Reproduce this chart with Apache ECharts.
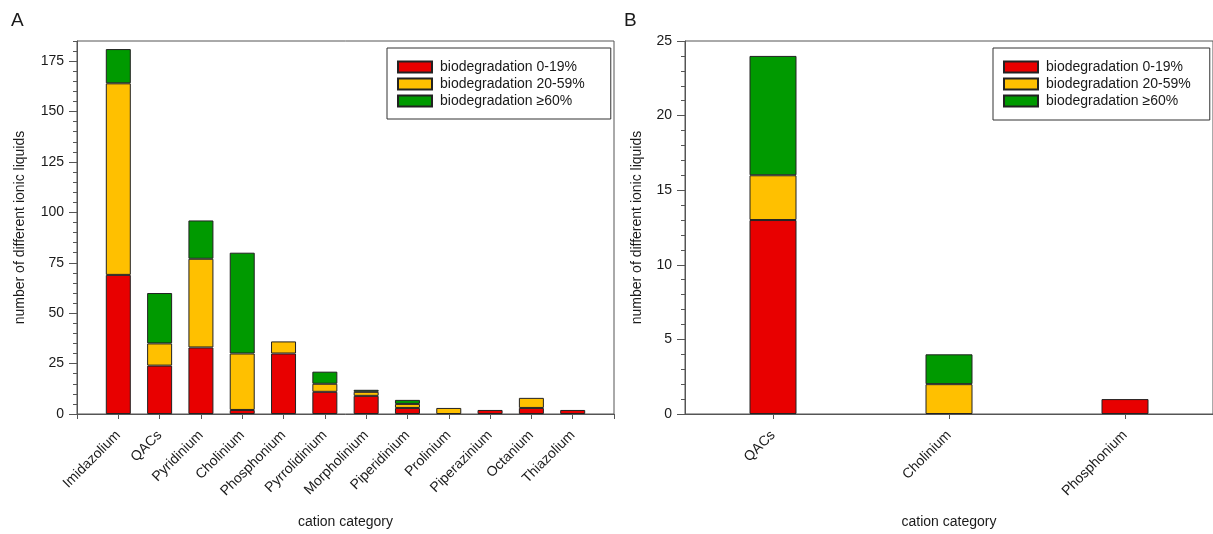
<!DOCTYPE html>
<html>
<head>
<meta charset="utf-8">
<script src="https://cdn.jsdelivr.net/npm/echarts@6/dist/echarts.min.js"></script>
<style>
html,body{margin:0;padding:0;background:#fff;}
#c{width:1213px;height:534px;}
</style>
</head>
<body>
<div id="c"></div>
<script>
// ---- data ----
const seriesNames = ['biodegradation 0-19%', 'biodegradation 20-59%', 'biodegradation \u226560%'];
const categoriesA = ['Imidazolium','QACs','Pyridinium','Cholinium','Phosphonium','Pyrrolidinium','Morpholinium','Piperidinium','Prolinium','Piperazinium','Octanium','Thiazolium'];
const lowA  = [69, 24, 33,  2, 30, 11, 9, 3, 0, 2, 3, 2];
const midA  = [95, 11, 44, 28,  6,  4, 2, 2, 3, 0, 5, 0];
const highA = [17, 25, 19, 50,  0,  6, 1, 2, 0, 0, 0, 0];
const categoriesB = ['QACs','Cholinium','Phosphonium'];
const lowB  = [13, 0, 1];
const midB  = [3, 2, 0];
const highB = [8, 2, 0];
const yTicksA = {min: 0, max: 185, interval: 25, minor: 5};
const yTicksB = {min: 0, max: 25, interval: 5};

// ---- styles ----
const colors = ['#E80000', '#FFC000', '#009A00'];
const font = "'Liberation Sans', Arial, sans-serif";
const txt = '#1a1a1a';
const axisCol = '#555';

const chart = echarts.init(document.getElementById('c'), null, {renderer: 'canvas'});

function mk(v){ return v === 0 ? '-' : v; }
// panel A axis has an empty slot at each end (axis runs from 0 to 13)
const axisCatsA = [''].concat(categoriesA, ['']);

const seriesA = [lowA, midA, highA].map((arr, k) => ({
  name: seriesNames[k], type: 'bar', stack: 'A', xAxisIndex: 0, yAxisIndex: 0,
  barWidth: 25,
  itemStyle: {color: colors[k], borderColor: '#222', borderWidth: 1},
  data: ['-'].concat(arr.map(mk), ['-'])
}));
const seriesB = [lowB, midB, highB].map((arr, k) => ({
  name: seriesNames[k], type: 'bar', stack: 'B', xAxisIndex: 1, yAxisIndex: 2,
  barWidth: 47,
  itemStyle: {color: colors[k], borderColor: '#222', borderWidth: 1},
  data: arr.map(mk)
}));

const legendBase = {
  orient: 'vertical', icon: 'rect', itemWidth: 34, itemHeight: 11, itemGap: 3,
  borderColor: '#333', borderWidth: 1, backgroundColor: '#fff',
  selectedMode: false,
  textStyle: {fontFamily: font, fontSize: 14, color: txt, padding: [0, 0, 0, 3]},
  data: seriesNames
};

const option = {
  animation: false,
  textStyle: {fontFamily: font},
  title: [
    {text: 'A', left: 11, top: 11, padding: 0, textStyle: {fontFamily: font, fontSize: 19, fontWeight: 'normal', color: txt}},
    {text: 'B', left: 624, top: 11, padding: 0, textStyle: {fontFamily: font, fontSize: 19, fontWeight: 'normal', color: txt}}
  ],
  legend: [
    Object.assign({}, legendBase, {left: 387, top: 48, padding: [12, 26, 11, 10]}),
    Object.assign({}, legendBase, {left: 993, top: 48, padding: [12, 19, 12, 10]})
  ],
  grid: [
    {left: 77, top: 41, width: 537, height: 375, show: true, borderColor: axisCol, borderWidth: 1, containLabel: false},
    {left: 685, top: 41, width: 537, height: 375, show: true, borderColor: axisCol, borderWidth: 1, containLabel: false}
  ],
  xAxis: [
    {
      type: 'category', gridIndex: 0, data: axisCatsA, boundaryGap: false,
      axisLine: {show: true, lineStyle: {color: axisCol}},
      axisTick: {show: true, length: 5, interval: 0, lineStyle: {color: axisCol}},
      axisLabel: {rotate: 45, margin: 19, fontSize: 14, color: txt, fontFamily: font, interval: 0},
      name: 'cation category', nameLocation: 'middle', nameGap: 101,
      nameTextStyle: {fontSize: 14, color: txt, fontFamily: font}
    },
    {
      type: 'category', gridIndex: 1, data: categoriesB, boundaryGap: true,
      axisLine: {show: true, lineStyle: {color: axisCol}},
      axisTick: {show: true, length: 5, alignWithLabel: true, lineStyle: {color: axisCol}},
      axisLabel: {rotate: 45, margin: 19, fontSize: 14, color: txt, fontFamily: font, interval: 0},
      name: 'cation category', nameLocation: 'middle', nameGap: 101,
      nameTextStyle: {fontSize: 14, color: txt, fontFamily: font}
    }
  ],
  yAxis: [
    {
      type: 'value', gridIndex: 0, position: 'left', min: yTicksA.min, max: yTicksA.max, interval: yTicksA.interval,
      splitLine: {show: false},
      axisLine: {show: true, lineStyle: {color: axisCol}},
      axisTick: {show: true, length: 8, lineStyle: {color: axisCol}},
      axisLabel: {margin: 13, fontSize: 14, color: txt, fontFamily: font, showMaxLabel: false},
      name: 'number of different ionic liquids', nameLocation: 'middle', nameRotate: 90, nameGap: 50,
      nameTextStyle: {fontSize: 14, color: txt, fontFamily: font}
    },
    {
      type: 'value', gridIndex: 0, position: 'left', offset: 0, min: yTicksA.min, max: yTicksA.max, interval: yTicksA.minor,
      splitLine: {show: false},
      axisLine: {show: false},
      axisTick: {show: true, length: 4, lineStyle: {color: axisCol}},
      axisLabel: {show: false}
    },
    {
      type: 'value', gridIndex: 1, position: 'left', min: yTicksB.min, max: yTicksB.max, interval: yTicksB.interval,
      splitLine: {show: false},
      axisLine: {show: true, lineStyle: {color: axisCol}},
      axisTick: {show: true, length: 8, lineStyle: {color: axisCol}},
      minorTick: {show: true, splitNumber: 5, length: 4, lineStyle: {color: axisCol}},
      axisLabel: {margin: 13, fontSize: 14, color: txt, fontFamily: font},
      name: 'number of different ionic liquids', nameLocation: 'middle', nameRotate: 90, nameGap: 41,
      nameTextStyle: {fontSize: 14, color: txt, fontFamily: font}
    }
  ],
  series: seriesA.concat(seriesB)
};
chart.setOption(option);
</script>
</body>
</html>
